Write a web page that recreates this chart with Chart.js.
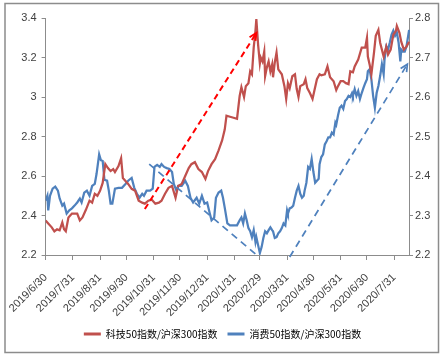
<!DOCTYPE html>
<html><head><meta charset="utf-8">
<script src="https://cdn.jsdelivr.net/npm/chart.js@4.4.1/dist/chart.umd.min.js"></script>
<style>html,body{margin:0;padding:0;background:#fff}#wrap{width:445px;height:357px;position:relative}</style>
</head><body><div id="wrap"><canvas id="c" width="445" height="357"></canvas></div>
<script>
// x values are days counted from the start date
const startDate = [2019, 6, 30];
const xMaxDay = 415;
const tickLabels = ['2019/6/30','2019/7/31','2019/8/31','2019/9/30','2019/10/31','2019/11/30','2019/12/31','2020/1/31','2020/2/29','2020/3/31','2020/4/30','2020/5/31','2020/6/30','2020/7/31'];
const seriesNames = ['科技50指数/沪深300指数','消费50指数/沪深300指数'];
const leftTicks = [2.2, 2.4, 2.6, 2.8, 3.0, 3.2, 3.4];
const rightTicks = [2.2, 2.3, 2.4, 2.5, 2.6, 2.7, 2.8];

const redDays = [0,3,7,10,13,16,19,21,23,26,30,34,36,39,42,46,50,53,56,59,62,65,68,71,74,77,79,83,86,88,91,94,98,102,106,110,113,117,121,125,129,132,136,140,144,148,151,155,159,163,166,170,174,178,182,185,189,193,197,201,204,206,210,214,218,221,223,226,228,231,233,235,237,239,240,242,244,245,247,249,250,252,254,256,258,259,261,263,265,269,272,274,276,278,281,284,286,288,290,294,296,298,301,304,306,309,312,314,318,321,324,328,331,333,336,339,342,345,347,350,352,356,360,364,366,367,369,371,374,376,379,381,385,388,390,393,396,399,400,403,405,408,411,414];
const redValues = [2.375,2.36,2.34,2.32,2.33,2.325,2.365,2.33,2.32,2.39,2.41,2.41,2.41,2.375,2.39,2.43,2.475,2.465,2.51,2.5,2.525,2.565,2.66,2.64,2.625,2.635,2.62,2.65,2.69,2.59,2.575,2.56,2.535,2.525,2.475,2.465,2.46,2.475,2.48,2.46,2.465,2.475,2.51,2.54,2.55,2.49,2.55,2.56,2.6,2.64,2.66,2.67,2.635,2.62,2.585,2.625,2.66,2.685,2.73,2.78,2.835,2.905,2.9,2.895,2.89,3.005,3.05,3.0,3.055,3.07,3.13,3.115,3.25,3.335,3.395,3.265,3.17,3.2,3.18,3.23,3.105,3.15,3.18,3.13,3.165,3.1,3.175,3.225,3.14,3.115,3.055,2.99,3.07,3.045,3.105,3.115,3.04,3.0,3.055,3.065,3.09,3.045,3.02,2.99,3.03,3.09,3.115,3.11,3.115,3.155,3.1,3.08,3.035,3.055,3.08,3.08,3.07,3.065,3.13,3.125,3.155,3.19,3.25,3.25,3.3,3.205,3.165,3.115,3.225,3.31,3.34,3.275,3.205,3.255,3.215,3.24,3.315,3.335,3.36,3.325,3.28,3.24,3.255,3.28];

const blueDays = [0,2,3,5,8,11,14,16,19,21,24,27,30,33,36,39,41,44,47,50,53,56,58,61,63,65,67,70,72,74,76,79,83,87,91,94,98,101,104,107,110,112,115,119,122,124,127,130,132,135,138,141,144,146,149,151,155,159,162,165,168,172,175,178,181,184,187,189,192,194,197,200,202,204,207,210,214,218,221,223,225,227,229,231,233,235,237,239,240,242,244,246,248,250,252,254,256,258,259,261,263,265,267,269,271,273,275,276,278,280,282,284,286,288,290,292,294,295,297,299,301,303,305,307,309,311,312,314,316,318,320,322,324,326,328,330,331,333,335,337,339,341,343,345,347,349,350,352,354,356,358,360,362,364,366,367,369,371,373,375,377,379,381,383,385,386,388,390,392,394,396,398,400,402,404,405,407,409,411,414];
const blueValues = [2.338,2.35,2.313,2.35,2.368,2.373,2.363,2.343,2.325,2.33,2.305,2.313,2.318,2.325,2.333,2.343,2.333,2.358,2.363,2.35,2.375,2.38,2.405,2.455,2.44,2.438,2.39,2.388,2.363,2.33,2.33,2.368,2.37,2.37,2.38,2.388,2.395,2.37,2.355,2.345,2.355,2.35,2.363,2.363,2.368,2.423,2.428,2.423,2.43,2.423,2.42,2.418,2.41,2.38,2.363,2.375,2.375,2.388,2.375,2.345,2.333,2.345,2.33,2.35,2.33,2.333,2.305,2.288,2.295,2.345,2.358,2.363,2.345,2.32,2.28,2.275,2.275,2.275,2.288,2.295,2.28,2.305,2.288,2.268,2.26,2.245,2.263,2.233,2.245,2.225,2.205,2.22,2.243,2.26,2.255,2.263,2.27,2.263,2.26,2.243,2.245,2.255,2.26,2.268,2.28,2.275,2.313,2.305,2.318,2.32,2.325,2.345,2.363,2.375,2.355,2.345,2.35,2.363,2.383,2.423,2.418,2.443,2.41,2.383,2.388,2.393,2.43,2.448,2.455,2.48,2.488,2.498,2.498,2.51,2.505,2.535,2.53,2.553,2.573,2.578,2.57,2.59,2.595,2.603,2.6,2.61,2.603,2.62,2.603,2.615,2.595,2.61,2.623,2.635,2.645,2.665,2.67,2.645,2.603,2.573,2.61,2.628,2.653,2.683,2.658,2.695,2.728,2.72,2.738,2.758,2.768,2.755,2.763,2.738,2.69,2.72,2.715,2.715,2.728,2.77];

// dashed trend arrows, in data units (day, value on the given axis)
const arrows = [
  {axis: 'y',  from: [113, 2.433], to: [240, 3.324], color: '#FF0000', dash: [6, 4], width: 2, head: true},
  {axis: 'y1', from: [118, 2.43],  to: [243, 2.195], color: '#4F81BD', dash: [7, 5], width: 1.75, head: false},
  {axis: 'y1', from: [278, 2.195], to: [412, 2.683], color: '#4F81BD', dash: [7, 5], width: 1.75, head: true}
];

const dayOf = s => {
  const p = s.split('/').map(Number);
  return Math.round((Date.UTC(p[0], p[1]-1, p[2]) - Date.UTC(startDate[0], startDate[1]-1, startDate[2])) / 86400000);
};
const tickDays = tickLabels.map(dayOf);
const labelByDay = {};
tickLabels.forEach((l, i) => labelByDay[tickDays[i]] = l);

const fmt = v => String(+Number(v).toFixed(1));
const axisColor = '#8C8C8C';
const tickFont = {family: '"Liberation Sans Narrow", "Liberation Sans", Arial, sans-serif', size: 11};
const tickColor = '#404040';

const borderPlugin = {
  id: 'outerBorder',
  afterDraw(chart) {
    const c = chart.ctx;
    c.save();
    c.strokeStyle = '#8C8C8C';
    c.lineWidth = 1.5;
    c.strokeRect(5, 3.5, 433.5, 349);
    c.restore();
  }
};

const arrowPlugin = {
  id: 'trendArrows',
  afterDatasetsDraw(chart) {
    const c = chart.ctx, xs = chart.scales.x;
    c.save();
    arrows.forEach(a => {
      const ys = chart.scales[a.axis];
      const x0 = xs.getPixelForValue(a.from[0]), y0 = ys.getPixelForValue(a.from[1]);
      const x1 = xs.getPixelForValue(a.to[0]), y1 = ys.getPixelForValue(a.to[1]);
      c.strokeStyle = a.color;
      c.lineWidth = a.width;
      c.setLineDash(a.dash);
      c.beginPath(); c.moveTo(x0, y0); c.lineTo(x1, y1); c.stroke();
      if (a.head) {
        const ang = Math.atan2(y1 - y0, x1 - x0), L = 8, s = 0.45;
        c.setLineDash([]);
        c.beginPath();
        c.moveTo(x1 - L * Math.cos(ang - s), y1 - L * Math.sin(ang - s));
        c.lineTo(x1, y1);
        c.lineTo(x1 - L * Math.cos(ang + s), y1 - L * Math.sin(ang + s));
        c.stroke();
      }
    });
    c.restore();
  }
};

new Chart(document.getElementById('c'), {
  type: 'line',
  data: {
    datasets: [
      {label: seriesNames[0], data: redDays.map((d, i) => ({x: d, y: redValues[i]})), yAxisID: 'y',
       borderColor: '#C0504D', backgroundColor: '#C0504D', borderWidth: 2.25, pointRadius: 0, tension: 0},
      {label: seriesNames[1], data: blueDays.map((d, i) => ({x: d, y: blueValues[i]})), yAxisID: 'y1',
       borderColor: '#4F81BD', backgroundColor: '#4F81BD', borderWidth: 2.25, pointRadius: 0, tension: 0}
    ]
  },
  options: {
    responsive: false,
    animation: false,
    devicePixelRatio: 1,
    layout: {padding: {top: 18, left: 0, right: 0, bottom: 8}},
    plugins: {
      tooltip: {enabled: false},
      legend: {
        position: 'bottom',
        labels: {
          boxWidth: 17, boxHeight: 3, padding: 10, color: '#404040',
          font: {family: '"Noto Sans CJK SC", sans-serif', size: 10},
          generateLabels: chart => chart.data.datasets.map((ds, i) => ({
            text: ds.label, fillStyle: ds.borderColor, strokeStyle: ds.borderColor, lineWidth: 0, datasetIndex: i
          }))
        }
      }
    },
    scales: {
      x: {
        type: 'linear', min: 0, max: xMaxDay,
        afterBuildTicks: s => { s.ticks = tickDays.map(v => ({value: v})); },
        afterFit: s => { s.height = 64; },
        ticks: {autoSkip: false, maxRotation: 45, minRotation: 45, padding: 11, font: tickFont, color: tickColor,
                callback: v => labelByDay[v] || ''},
        grid: {display: true, drawOnChartArea: false, drawTicks: true, tickLength: 5, color: axisColor},
        border: {display: true, color: axisColor}
      },
      y: {
        position: 'left', min: 2.2, max: 3.4,
        afterBuildTicks: s => { s.ticks = leftTicks.map(v => ({value: v})); },
        afterFit: s => { s.width = 44; },
        ticks: {padding: 5, font: tickFont, color: tickColor, callback: fmt},
        grid: {display: true, drawOnChartArea: false, drawTicks: true, tickLength: 4, color: axisColor},
        border: {display: true, color: axisColor}
      },
      y1: {
        position: 'right', min: 2.2, max: 2.8,
        afterBuildTicks: s => { s.ticks = rightTicks.map(v => ({value: v})); },
        afterFit: s => { s.width = 35; },
        ticks: {padding: 2, font: tickFont, color: tickColor, callback: fmt},
        grid: {display: true, drawOnChartArea: false, drawTicks: true, tickLength: 3, color: axisColor},
        border: {display: true, color: axisColor}
      }
    }
  },
  plugins: [arrowPlugin, borderPlugin]
});
</script></body></html>
